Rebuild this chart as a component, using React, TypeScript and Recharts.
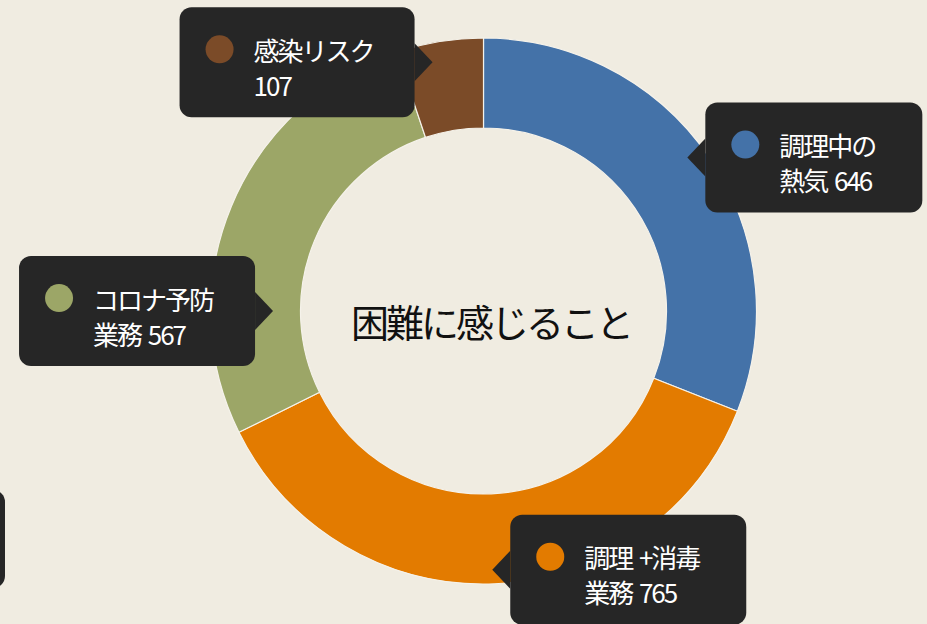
import React from 'react';
import { PieChart, Pie, Cell } from 'recharts';

const categories = ['調理中の熱気', '調理 +消毒業務', 'コロナ予防業務', '感染リスク'];
const values = [646, 765, 567, 107];
const labelLine1 = ['調理中の', '調理\u2004+消毒', 'コロナ予防', '感染リスク'];
const labelLine2 = ['熱気', '業務', '業務', ''];
const colors = ['#4472a8', '#e37b00', '#9ca667', '#7b4b28'];

const data = categories.map((name, i) => ({ name, value: values[i] }));

const BG = '#f0ece1';
const BOX = '#262626';
const FONT = '"Noto Sans CJK JP", "Noto Sans", sans-serif';

// callout tip tweaks, like the hand-dragged labels in the original
const tipNudge = [
  [-7, -10],
  [-2, 4],
  [25, 98],
  [-10, 3],
];
const boxWidth = [217, 236, 236, 235];

const RAD = Math.PI / 180;

const Callout = (props: any) => {
  const { cx, cy, midAngle, index } = props;
  const r = 255;
  const tx = cx + r * Math.cos(-midAngle * RAD) + tipNudge[index][0];
  const ty = cy + r * Math.sin(-midAngle * RAD) + tipNudge[index][1];
  const right = Math.cos(-midAngle * RAD) > 0;
  const w = boxWidth[index];
  const h = 110;
  const gap = 18;
  const bx = right ? tx + gap : tx - gap - w;
  const by = ty - h / 2;
  const edge = right ? bx : bx + w;
  const pts = `${tx},${ty} ${edge},${ty - 19} ${edge},${ty + 19}`;
  const line2 = labelLine2[index] ? `${labelLine2[index]}\u2004${values[index]}` : `${values[index]}`;
  return (
    <g>
      <rect x={bx} y={by} width={w} height={h} rx={12} ry={12} fill={BOX} />
      <polygon points={pts} fill={BOX} />
      <circle cx={bx + 40} cy={by + 42} r={14} fill={colors[index]} />
      <text
        x={bx + 74}
        y={by + 42}
        fill="#ffffff"
        fontSize={26}
        fontFamily={FONT}
        letterSpacing={-2}
        dominantBaseline="central"
      >
        {labelLine1[index]}
      </text>
      <text
        x={bx + 74}
        y={by + 77}
        fill="#ffffff"
        fontSize={26}
        fontFamily={FONT}
        letterSpacing={-2}
        dominantBaseline="central"
      >
        {line2}
      </text>
    </g>
  );
};

const App = () => {
  return (
    <div
      style={{
        position: 'absolute',
        left: 0,
        top: 0,
        width: 927,
        height: 624,
        background: BG,
        overflow: 'hidden',
      }}
    >
      <PieChart width={927} height={624} margin={{ top: 0, right: 0, bottom: 0, left: 0 }}>
        <Pie
          data={data}
          dataKey="value"
          nameKey="name"
          cx={483.5}
          cy={311}
          innerRadius={183}
          outerRadius={273}
          startAngle={90}
          endAngle={-270}
          stroke="#f5f2ea"
          strokeWidth={1.2}
          label={Callout}
          labelLine={false}
          isAnimationActive={false}
        >
          {data.map((d, i) => (
            <Cell key={d.name} fill={colors[i]} />
          ))}
        </Pie>
        <text
          x={491}
          y={320}
          textAnchor="middle"
          dominantBaseline="central"
          fontSize={38}
          fontFamily={FONT}
          letterSpacing={-3}
          fill="#111111"
        >
          困難に感じること
        </text>
      </PieChart>
      <div
        style={{
          position: 'absolute',
          left: -230,
          top: 490,
          width: 235,
          height: 98,
          borderRadius: 12,
          background: BOX,
        }}
      />
    </div>
  );
};

export default App;
